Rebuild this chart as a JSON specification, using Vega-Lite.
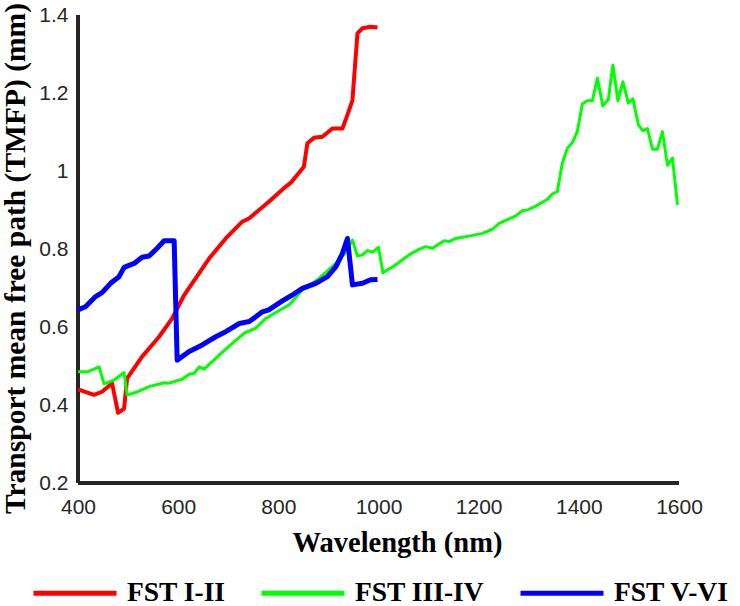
{
  "$schema": "https://vega.github.io/schema/vega-lite/v6.json",
  "autosize": "none",
  "width": 601,
  "height": 468,
  "padding": {"left": 78, "top": 15, "right": 61, "bottom": 123},
  "background": "white",
  "config": {"view": {"stroke": null}},
  "datasets": {
    "d": [
      {"s": "FST I-II", "w": 400, "v": 0.440}, {"s": "FST I-II", "w": 432, "v": 0.426}, {"s": "FST I-II", "w": 448, "v": 0.434}, {"s": "FST I-II", "w": 468, "v": 0.456}, {"s": "FST I-II", "w": 480, "v": 0.380}, {"s": "FST I-II", "w": 492, "v": 0.391}, {"s": "FST I-II", "w": 498, "v": 0.468}, {"s": "FST I-II", "w": 528, "v": 0.524}, {"s": "FST I-II", "w": 562, "v": 0.575}, {"s": "FST I-II", "w": 588, "v": 0.622}, {"s": "FST I-II", "w": 612, "v": 0.682}, {"s": "FST I-II", "w": 642, "v": 0.738}, {"s": "FST I-II", "w": 662, "v": 0.776}, {"s": "FST I-II", "w": 695, "v": 0.827}, {"s": "FST I-II", "w": 728, "v": 0.870}, {"s": "FST I-II", "w": 742, "v": 0.879}, {"s": "FST I-II", "w": 781, "v": 0.921}, {"s": "FST I-II", "w": 815, "v": 0.960}, {"s": "FST I-II", "w": 825, "v": 0.970}, {"s": "FST I-II", "w": 851, "v": 1.011}, {"s": "FST I-II", "w": 858, "v": 1.071}, {"s": "FST I-II", "w": 871, "v": 1.085}, {"s": "FST I-II", "w": 888, "v": 1.088}, {"s": "FST I-II", "w": 908, "v": 1.109}, {"s": "FST I-II", "w": 928, "v": 1.109}, {"s": "FST I-II", "w": 938, "v": 1.144}, {"s": "FST I-II", "w": 948, "v": 1.182}, {"s": "FST I-II", "w": 958, "v": 1.353}, {"s": "FST I-II", "w": 968, "v": 1.366}, {"s": "FST I-II", "w": 984, "v": 1.370}, {"s": "FST I-II", "w": 998, "v": 1.368},
      {"s": "FST III-IV", "w": 400, "v": 0.485}, {"s": "FST III-IV", "w": 419, "v": 0.485}, {"s": "FST III-IV", "w": 442, "v": 0.498}, {"s": "FST III-IV", "w": 452, "v": 0.454}, {"s": "FST III-IV", "w": 472, "v": 0.464}, {"s": "FST III-IV", "w": 492, "v": 0.483}, {"s": "FST III-IV", "w": 498, "v": 0.426}, {"s": "FST III-IV", "w": 515, "v": 0.432}, {"s": "FST III-IV", "w": 542, "v": 0.447}, {"s": "FST III-IV", "w": 572, "v": 0.457}, {"s": "FST III-IV", "w": 582, "v": 0.456}, {"s": "FST III-IV", "w": 608, "v": 0.466}, {"s": "FST III-IV", "w": 622, "v": 0.479}, {"s": "FST III-IV", "w": 632, "v": 0.481}, {"s": "FST III-IV", "w": 642, "v": 0.498}, {"s": "FST III-IV", "w": 652, "v": 0.492}, {"s": "FST III-IV", "w": 682, "v": 0.528}, {"s": "FST III-IV", "w": 708, "v": 0.558}, {"s": "FST III-IV", "w": 732, "v": 0.584}, {"s": "FST III-IV", "w": 755, "v": 0.597}, {"s": "FST III-IV", "w": 775, "v": 0.622}, {"s": "FST III-IV", "w": 805, "v": 0.645}, {"s": "FST III-IV", "w": 821, "v": 0.656}, {"s": "FST III-IV", "w": 848, "v": 0.695}, {"s": "FST III-IV", "w": 878, "v": 0.721}, {"s": "FST III-IV", "w": 915, "v": 0.763}, {"s": "FST III-IV", "w": 935, "v": 0.793}, {"s": "FST III-IV", "w": 948, "v": 0.823}, {"s": "FST III-IV", "w": 958, "v": 0.782}, {"s": "FST III-IV", "w": 968, "v": 0.785}, {"s": "FST III-IV", "w": 978, "v": 0.796}, {"s": "FST III-IV", "w": 988, "v": 0.792}, {"s": "FST III-IV", "w": 1000, "v": 0.804}, {"s": "FST III-IV", "w": 1009, "v": 0.739}, {"s": "FST III-IV", "w": 1034, "v": 0.759}, {"s": "FST III-IV", "w": 1061, "v": 0.785}, {"s": "FST III-IV", "w": 1081, "v": 0.799}, {"s": "FST III-IV", "w": 1094, "v": 0.806}, {"s": "FST III-IV", "w": 1108, "v": 0.802}, {"s": "FST III-IV", "w": 1131, "v": 0.821}, {"s": "FST III-IV", "w": 1141, "v": 0.819}, {"s": "FST III-IV", "w": 1154, "v": 0.827}, {"s": "FST III-IV", "w": 1181, "v": 0.833}, {"s": "FST III-IV", "w": 1207, "v": 0.840}, {"s": "FST III-IV", "w": 1227, "v": 0.850}, {"s": "FST III-IV", "w": 1241, "v": 0.866}, {"s": "FST III-IV", "w": 1274, "v": 0.885}, {"s": "FST III-IV", "w": 1287, "v": 0.898}, {"s": "FST III-IV", "w": 1297, "v": 0.900}, {"s": "FST III-IV", "w": 1314, "v": 0.910}, {"s": "FST III-IV", "w": 1337, "v": 0.927}, {"s": "FST III-IV", "w": 1347, "v": 0.941}, {"s": "FST III-IV", "w": 1357, "v": 0.947}, {"s": "FST III-IV", "w": 1367, "v": 1.020}, {"s": "FST III-IV", "w": 1377, "v": 1.058}, {"s": "FST III-IV", "w": 1387, "v": 1.073}, {"s": "FST III-IV", "w": 1397, "v": 1.101}, {"s": "FST III-IV", "w": 1407, "v": 1.172}, {"s": "FST III-IV", "w": 1417, "v": 1.180}, {"s": "FST III-IV", "w": 1427, "v": 1.180}, {"s": "FST III-IV", "w": 1437, "v": 1.238}, {"s": "FST III-IV", "w": 1448, "v": 1.167}, {"s": "FST III-IV", "w": 1459, "v": 1.184}, {"s": "FST III-IV", "w": 1468, "v": 1.272}, {"s": "FST III-IV", "w": 1478, "v": 1.180}, {"s": "FST III-IV", "w": 1488, "v": 1.229}, {"s": "FST III-IV", "w": 1499, "v": 1.174}, {"s": "FST III-IV", "w": 1508, "v": 1.185}, {"s": "FST III-IV", "w": 1519, "v": 1.118}, {"s": "FST III-IV", "w": 1528, "v": 1.103}, {"s": "FST III-IV", "w": 1537, "v": 1.109}, {"s": "FST III-IV", "w": 1547, "v": 1.056}, {"s": "FST III-IV", "w": 1557, "v": 1.056}, {"s": "FST III-IV", "w": 1567, "v": 1.101}, {"s": "FST III-IV", "w": 1577, "v": 1.015}, {"s": "FST III-IV", "w": 1587, "v": 1.033}, {"s": "FST III-IV", "w": 1597, "v": 0.913},
      {"s": "FST V-VI", "w": 400, "v": 0.644}, {"s": "FST V-VI", "w": 415, "v": 0.652}, {"s": "FST V-VI", "w": 435, "v": 0.678}, {"s": "FST V-VI", "w": 448, "v": 0.688}, {"s": "FST V-VI", "w": 465, "v": 0.712}, {"s": "FST V-VI", "w": 482, "v": 0.729}, {"s": "FST V-VI", "w": 492, "v": 0.753}, {"s": "FST V-VI", "w": 512, "v": 0.763}, {"s": "FST V-VI", "w": 528, "v": 0.779}, {"s": "FST V-VI", "w": 542, "v": 0.782}, {"s": "FST V-VI", "w": 558, "v": 0.802}, {"s": "FST V-VI", "w": 572, "v": 0.821}, {"s": "FST V-VI", "w": 592, "v": 0.821}, {"s": "FST V-VI", "w": 598, "v": 0.515}, {"s": "FST V-VI", "w": 622, "v": 0.537}, {"s": "FST V-VI", "w": 648, "v": 0.554}, {"s": "FST V-VI", "w": 675, "v": 0.575}, {"s": "FST V-VI", "w": 695, "v": 0.588}, {"s": "FST V-VI", "w": 722, "v": 0.609}, {"s": "FST V-VI", "w": 742, "v": 0.614}, {"s": "FST V-VI", "w": 768, "v": 0.639}, {"s": "FST V-VI", "w": 781, "v": 0.644}, {"s": "FST V-VI", "w": 808, "v": 0.667}, {"s": "FST V-VI", "w": 828, "v": 0.682}, {"s": "FST V-VI", "w": 848, "v": 0.699}, {"s": "FST V-VI", "w": 875, "v": 0.712}, {"s": "FST V-VI", "w": 898, "v": 0.729}, {"s": "FST V-VI", "w": 915, "v": 0.755}, {"s": "FST V-VI", "w": 928, "v": 0.789}, {"s": "FST V-VI", "w": 938, "v": 0.827}, {"s": "FST V-VI", "w": 948, "v": 0.708}, {"s": "FST V-VI", "w": 968, "v": 0.712}, {"s": "FST V-VI", "w": 984, "v": 0.721}, {"s": "FST V-VI", "w": 998, "v": 0.722}
    ]
  },
  "data": {"name": "d"},
  "encoding": {
    "x": {
      "field": "w", "type": "quantitative",
      "scale": {"domain": [400, 1600], "nice": false, "zero": false},
      "axis": {
        "title": "Wavelength (nm)",
        "values": [400, 600, 800, 1000, 1200, 1400, 1600],
        "format": "d",
        "labelFlush": false,
        "grid": false,
        "domain": true, "domainOpacity": 0,
        "ticks": true, "tickSize": 7, "tickOpacity": 0,
        "labelFont": "Liberation Sans", "labelFontSize": 21, "labelColor": "#262626",
        "labelPadding": 6,
        "titleFont": "Liberation Serif", "titleFontSize": 28.5, "titleFontWeight": "bold", "titleColor": "black",
        "titlePadding": 11,
        "titleX": 319
      }
    },
    "y": {
      "field": "v", "type": "quantitative",
      "scale": {"domain": [0.2, 1.4], "nice": false, "zero": false},
      "axis": {
        "title": "Transport mean free path (TMFP) (mm)",
        "values": [0.2, 0.4, 0.6, 0.8, 1, 1.2, 1.4],
        "format": "~g",
        "labelFlush": false,
        "grid": false,
        "domain": true, "domainOpacity": 0,
        "ticks": true, "tickSize": 7, "tickOpacity": 0,
        "labelFont": "Liberation Sans", "labelFontSize": 21, "labelColor": "#262626",
        "labelPadding": 3,
        "titleFont": "Liberation Serif", "titleFontSize": 29.5, "titleFontWeight": "bold", "titleColor": "black",
        "titlePadding": 8,
        "titleY": 243
      }
    }
  },
  "layer": [
    {
      "data": {"values": [{"t": 600}, {"t": 800}, {"t": 1000}, {"t": 1200}, {"t": 1400}, {"t": 1600}]},
      "mark": {"type": "rule", "color": "#262626", "strokeWidth": 2},
      "encoding": {"x": {"field": "t", "type": "quantitative"}, "y": {"datum": 0.2}, "y2": {"datum": 0.2205}}
    },
    {
      "data": {"values": [{"t": 0.4}, {"t": 0.6}, {"t": 0.8}, {"t": 1.0}, {"t": 1.2}, {"t": 1.4}]},
      "mark": {"type": "rule", "color": "#262626", "strokeWidth": 2},
      "encoding": {"y": {"field": "t", "type": "quantitative"}, "x": {"datum": 400}, "x2": {"datum": 416}}
    },
    {
      "mark": {"type": "rule", "color": "#262626", "strokeWidth": 2.5},
      "encoding": {"x": {"datum": 400}, "y": {"datum": 0.2}, "y2": {"datum": 1.4}}
    },
    {
      "mark": {"type": "rule", "color": "#262626", "strokeWidth": 2.5},
      "encoding": {"y": {"datum": 0.2}, "x": {"datum": 400}, "x2": {"datum": 1600}}
    },
    {
      "transform": [{"filter": "datum.s == 'FST I-II'"}],
      "mark": {"type": "line", "strokeWidth": 4, "strokeJoin": "round"},
      "encoding": {"color": {"field": "s", "type": "nominal", "scale": {"domain": ["FST I-II", "FST III-IV", "FST V-VI"], "range": ["#ff0000", "#00ff00", "#0000ff"]},
        "legend": {"title": null, "orient": "none", "direction": "horizontal", "legendX": -47, "legendY": 534, "padding": 0, "symbolType": "stroke", "symbolSize": 6889, "symbolStrokeWidth": 5, "labelOffset": 8, "columnPadding": 25, "labelFont": "Liberation Serif", "labelFontSize": 27.5, "labelFontWeight": "bold", "labelColor": "black", "labelLimit": 300}}}
    },
    {
      "transform": [{"filter": "datum.s == 'FST III-IV'"}],
      "mark": {"type": "line", "strokeWidth": 3, "strokeJoin": "round"},
      "encoding": {"color": {"field": "s", "type": "nominal"}}
    },
    {
      "transform": [{"filter": "datum.s == 'FST V-VI'"}],
      "mark": {"type": "line", "strokeWidth": 5, "strokeJoin": "round"},
      "encoding": {"color": {"field": "s", "type": "nominal"}}
    }
  ]
}
